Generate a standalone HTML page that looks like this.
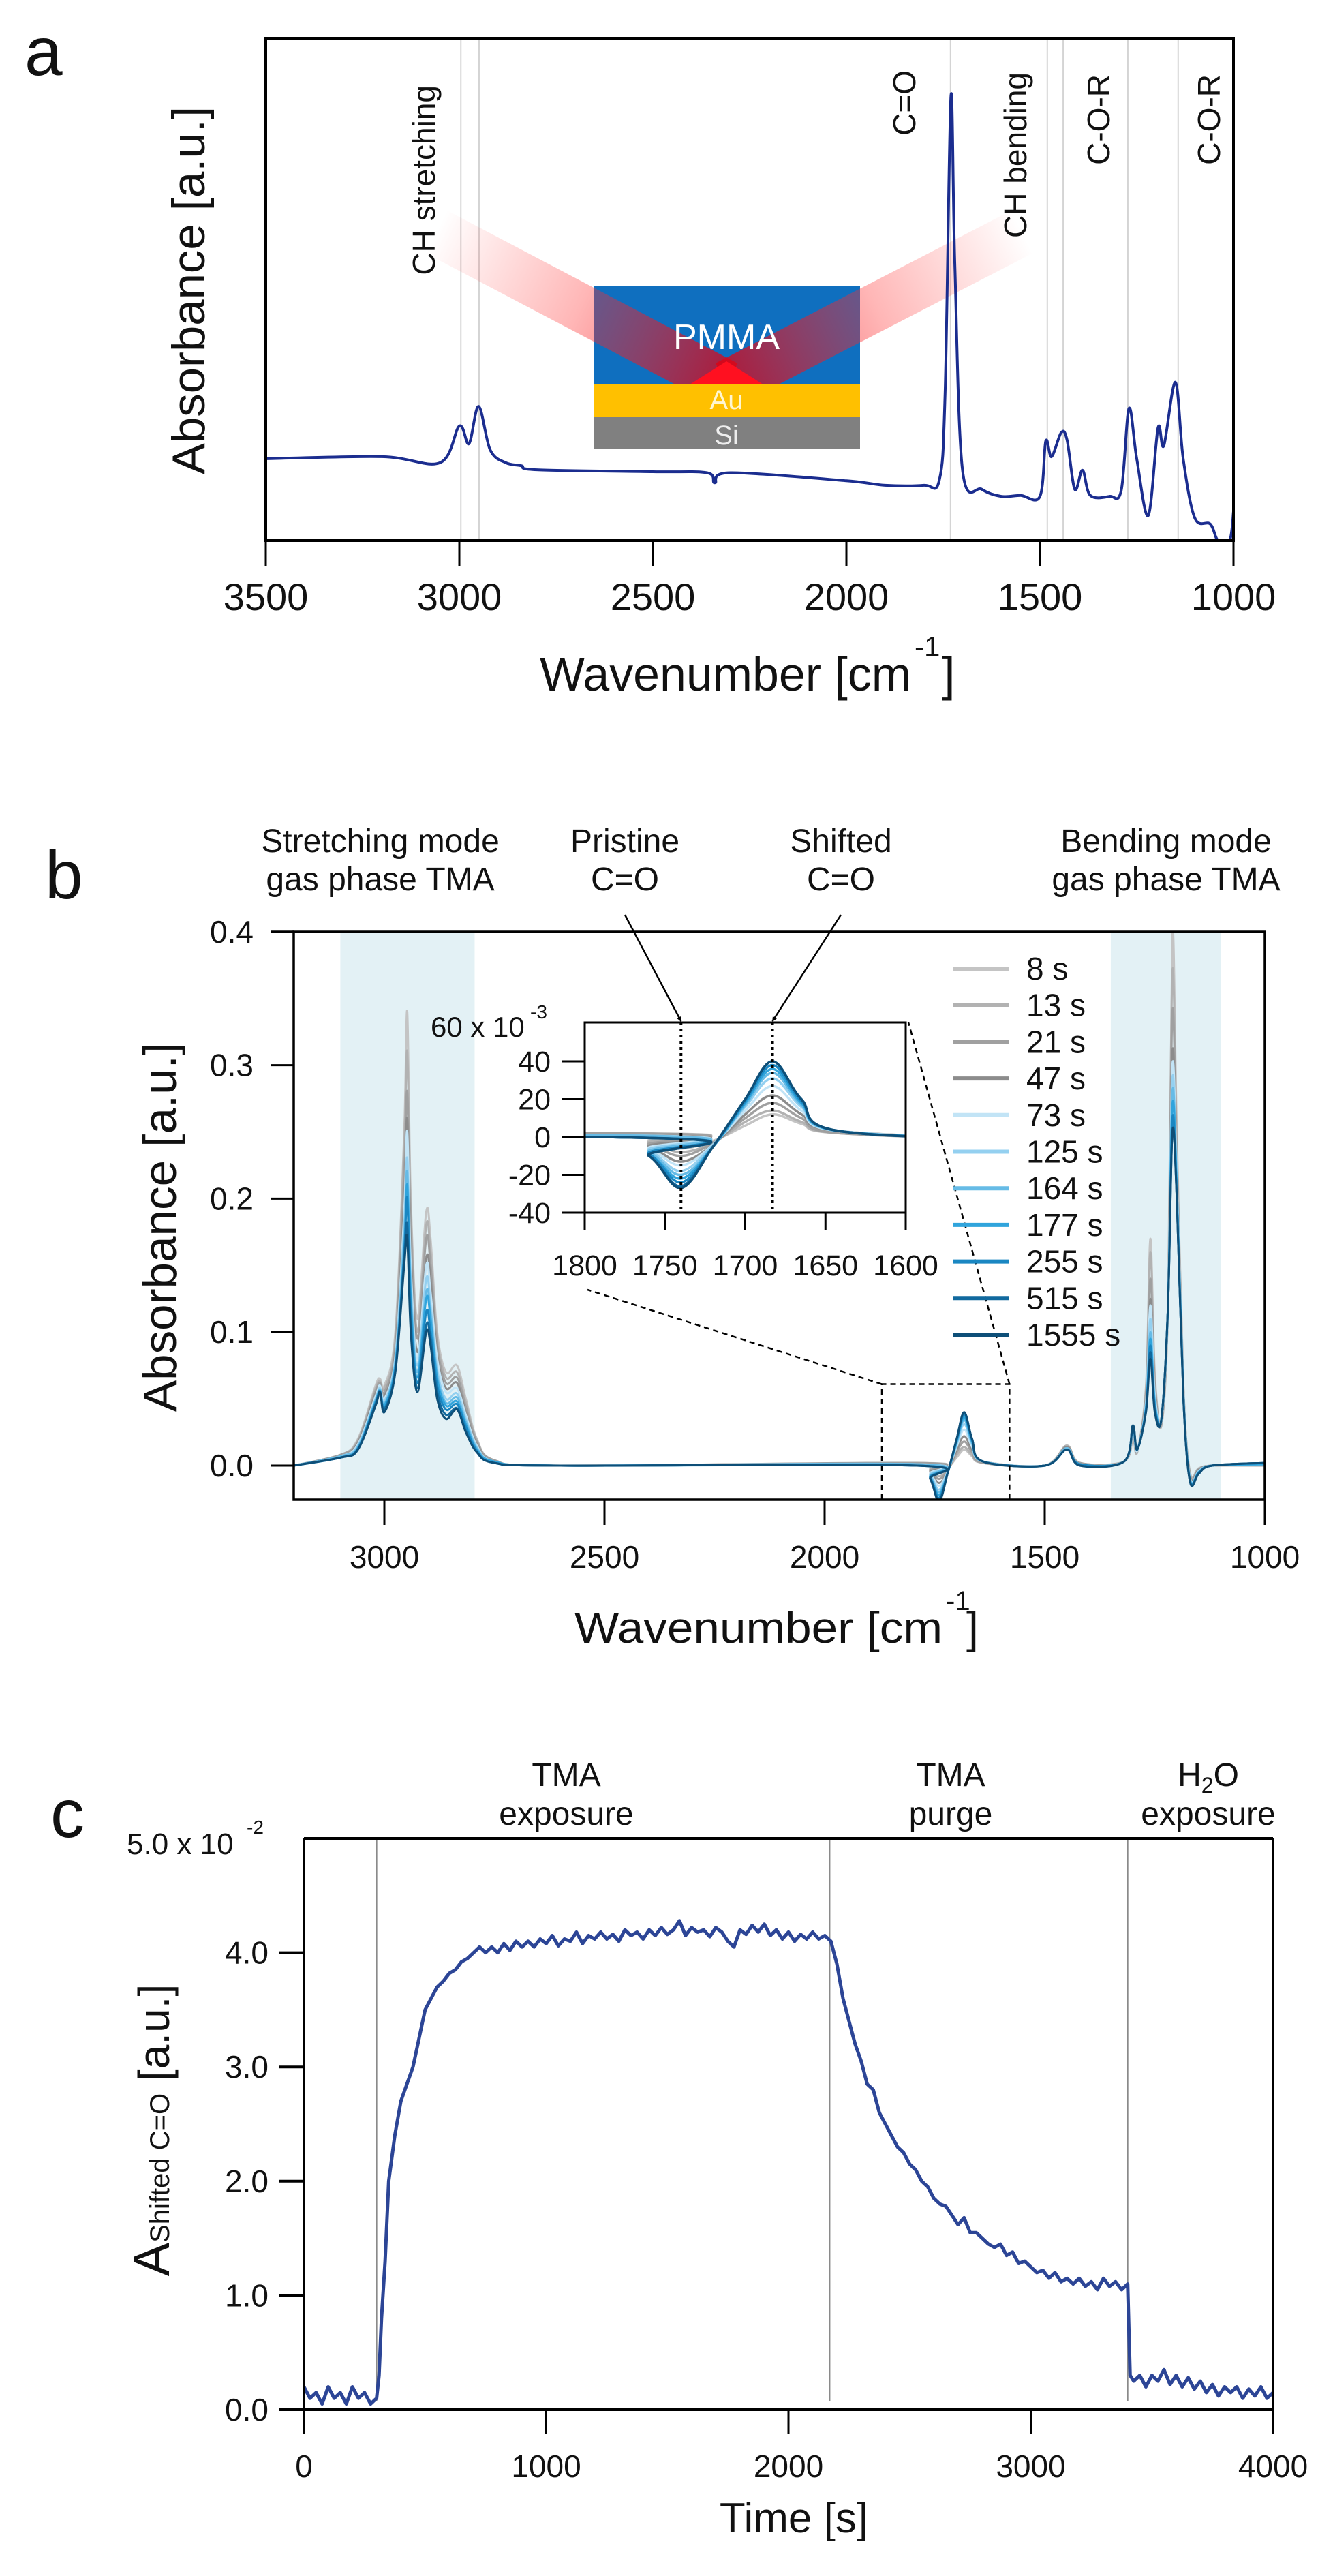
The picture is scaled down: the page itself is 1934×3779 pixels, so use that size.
<!DOCTYPE html>
<html><head><meta charset="utf-8"><title>FTIR figure</title>
<style>
html,body{margin:0;padding:0;background:#fff;}
svg{display:block;}
text{font-family:"Liberation Sans",Arial,sans-serif;fill:#111;}
</style></head>
<body>
<svg id="fig" xmlns="http://www.w3.org/2000/svg" width="1934" height="3779" viewBox="0 0 1934 3779">
<defs>
  <clipPath id="clipA"><rect x="390" y="56" width="1420" height="737"/></clipPath>
  <clipPath id="clipB"><rect x="431" y="1367" width="1425" height="833"/></clipPath>
  <clipPath id="clipI"><rect x="858" y="1500" width="471" height="279"/></clipPath>
  <clipPath id="clipC"><rect x="446" y="2697" width="1422" height="850"/></clipPath>
  <clipPath id="clipBeam"><rect x="600" y="300" width="950" height="264"/></clipPath>
  <linearGradient id="gL" gradientUnits="userSpaceOnUse" x1="640" y1="340" x2="1066" y2="550">
    <stop offset="0" stop-color="#ff3030" stop-opacity="0"/>
    <stop offset="0.5" stop-color="#ff3030" stop-opacity="0.35"/>
    <stop offset="1" stop-color="#e00010" stop-opacity="0.75"/>
  </linearGradient>
  <linearGradient id="gR" gradientUnits="userSpaceOnUse" x1="1500" y1="340" x2="1066" y2="550">
    <stop offset="0" stop-color="#ff3030" stop-opacity="0"/>
    <stop offset="0.5" stop-color="#ff3030" stop-opacity="0.35"/>
    <stop offset="1" stop-color="#e00010" stop-opacity="0.75"/>
  </linearGradient>
  <marker id="arrow" viewBox="0 0 10 10" refX="9" refY="5" markerWidth="7" markerHeight="7" orient="auto-start-reverse" markerUnits="userSpaceOnUse">
    <path d="M0,0 L10,5 L0,10 z" fill="#000"/>
  </marker>
</defs>

<g id="panelA">
  <text x="36" y="110" font-size="100">a</text>
  <g id="aGuides"></g>
  <g>
    <rect x="872" y="420" width="390" height="144" fill="#0f6fbf"/>
    <rect x="872" y="564" width="390" height="48" fill="#ffc000"/>
    <rect x="872" y="612" width="390" height="46" fill="#808080"/>
    <g clip-path="url(#clipBeam)">
      <line x1="640" y1="340" x2="1066" y2="564" stroke="url(#gL)" stroke-width="70"/>
      <line x1="1500" y1="340" x2="1066" y2="564" stroke="url(#gR)" stroke-width="70"/>
    </g>
    <polygon points="1012,564 1120,564 1066,530" fill="#ff1020"/>
    <text x="1066" y="512" font-size="52" text-anchor="middle" style="fill:#fff">PMMA</text>
    <text x="1066" y="600" font-size="40" text-anchor="middle" style="fill:#fff6d0">Au</text>
    <text x="1066" y="652" font-size="40" text-anchor="middle" style="fill:#eee">Si</text>
  </g>
  <g id="aSeries" clip-path="url(#clipA)"></g>
  <rect x="390" y="56" width="1420" height="737" fill="none" stroke="#000" stroke-width="4"/>
  <g id="aTicks"></g>
  <text transform="translate(300,426) rotate(-90)" font-size="68" text-anchor="middle" textLength="540" lengthAdjust="spacingAndGlyphs">Absorbance [a.u.]</text>
  <g>
    <text x="792" y="1013" font-size="70" textLength="545" lengthAdjust="spacingAndGlyphs">Wavenumber [cm</text>
    <text x="1342" y="963" font-size="42">-1</text>
    <text x="1382" y="1013" font-size="70">]</text>
  </g>
  <g font-size="46">
    <text transform="translate(638,125) rotate(-90)" text-anchor="end">CH stretching</text>
    <text transform="translate(1343,103) rotate(-90)" text-anchor="end">C=O</text>
    <text transform="translate(1506,106) rotate(-90)" text-anchor="end">CH bending</text>
    <text transform="translate(1628,109) rotate(-90)" text-anchor="end">C-O-R</text>
    <text transform="translate(1790,109) rotate(-90)" text-anchor="end">C-O-R</text>
  </g>
</g>

<g id="panelB">
  <text x="66" y="1318" font-size="100">b</text>
  <g font-size="48" text-anchor="middle">
    <text x="558" y="1250">Stretching mode</text>
    <text x="558" y="1306">gas phase TMA</text>
    <text x="917" y="1250">Pristine</text>
    <text x="917" y="1306">C=O</text>
    <text x="1234" y="1250">Shifted</text>
    <text x="1234" y="1306">C=O</text>
    <text x="1711" y="1250">Bending mode</text>
    <text x="1711" y="1306">gas phase TMA</text>
  </g>
  <g id="bBands"></g>
  <g id="bSeries" clip-path="url(#clipB)"></g>
  <rect x="431" y="1367" width="1425" height="833" fill="none" stroke="#000" stroke-width="3.5"/>
  <g id="bTicks"></g>
  <g id="bZoom"></g>
  <g id="inset">
    <rect x="858" y="1500" width="471" height="279" fill="#fff"/>
    <g id="iSeries" clip-path="url(#clipI)"></g>
    <rect x="858" y="1500" width="471" height="279" fill="none" stroke="#000" stroke-width="3"/>
    <g id="iTicks"></g>
    <text x="632" y="1521" font-size="42">60 x 10</text>
    <text x="778" y="1494" font-size="28">-3</text>
  </g>
  <g id="legend"></g>
  <text transform="translate(258,1800) rotate(-90)" font-size="68" text-anchor="middle" textLength="542" lengthAdjust="spacingAndGlyphs">Absorbance [a.u.]</text>
  <g>
    <text x="843" y="2410" font-size="64" textLength="540" lengthAdjust="spacingAndGlyphs">Wavenumber [cm</text>
    <text x="1388" y="2362" font-size="40">-1</text>
    <text x="1418" y="2410" font-size="64">]</text>
  </g>
</g>

<g id="panelC">
  <text x="74" y="2695" font-size="100">c</text>
  <g font-size="48" text-anchor="middle">
    <text x="831" y="2620">TMA</text>
    <text x="831" y="2677">exposure</text>
    <text x="1395" y="2620">TMA</text>
    <text x="1395" y="2677">purge</text>
    <text x="1773" y="2620">H<tspan font-size="32" dy="10">2</tspan><tspan dy="-10">O</tspan></text>
    <text x="1773" y="2677">exposure</text>
  </g>
  <g id="cGuides"></g>
  <g id="cSeries" clip-path="url(#clipC)"></g>
  <g stroke="#000" fill="none">
    <line x1="446" y1="2697" x2="1868" y2="2697" stroke-width="4"/>
    <line x1="446" y1="2697" x2="446" y2="3535" stroke-width="3"/>
    <line x1="1868" y1="2697" x2="1868" y2="3535" stroke-width="3"/>
    <line x1="446" y1="3535" x2="1868" y2="3535" stroke-width="4"/>
  </g>
  <g id="cTicks"></g>
  <text x="186" y="2720" font-size="44">5.0 x 10</text>
  <text x="362" y="2690" font-size="28">-2</text>
  <text transform="translate(248,3125) rotate(-90)" text-anchor="middle"><tspan font-size="74">A</tspan><tspan font-size="40">Shifted C=O</tspan><tspan font-size="64"> [a.u.]</tspan></text>
  <text x="1165" y="3715" font-size="62" text-anchor="middle">Time [s]</text>
</g>
</svg>

<script>
const wnA = [3500,3200,3050,3000,2975,2950,2920,2880,2840,2800,2500,2360,2340,2300,2000,1900,1800,1760,1745,1730,1720,1700,1650,1600,1550,1500,1485,1470,1445,1430,1410,1390,1370,1320,1290,1270,1250,1220,1195,1180,1150,1130,1100,1060,1040,1010,1000];
const absA = [0.163,0.167,0.155,0.228,0.193,0.267,0.18,0.155,0.149,0.141,0.137,0.135,0.115,0.135,0.119,0.11,0.11,0.12,0.293,0.885,0.554,0.14,0.102,0.088,0.09,0.088,0.198,0.167,0.215,0.2,0.102,0.14,0.09,0.088,0.1,0.263,0.163,0.05,0.224,0.189,0.315,0.163,0.045,0.033,0,0,0.058];
const ticksA = [3500,3000,2500,2000,1500,1000];
const guideWnA = [2996,2949,1731,1481,1440,1273,1143];

const wnB = [3206,3100,3060,3020,3010,3000,2975,2955,2948,2940,2925,2905,2895,2880,2860,2835,2815,2790,2750,2600,1790,1760,1740,1720,1700,1683,1665,1640,1500,1450,1420,1320,1300,1290,1270,1260,1250,1235,1220,1210,1200,1185,1170,1150,1120,1000];
const labelsB = ["8 s","13 s","21 s","47 s","73 s","125 s","164 s","177 s","255 s","515 s","1555 s"];
const colorsB = ["#c4c4c4","#b2b2b2","#a0a0a0","#8c8c8c","#c2e4f6","#94d0f0","#66bbe6","#30a4dc","#1a87c2","#11699e","#0e4f78"];
const s8    = [0,.008,.02,.06,.065,.06,.10,.25,.34,.20,.11,.19,.17,.10,.07,.075,.05,.02,.004,0,.002,-.002,-.006,-.002,.006,.012,.007,.002,0,.015,.002,.003,.02,.01,.06,.17,.07,.03,.12,.40,.25,.06,-.005,-.002,0,0];
const s13   = [0,.008,.019,.058,.063,.058,.095,.24,.31,.19,.10,.18,.16,.095,.066,.07,.047,.019,.004,0,.002,-.003,-.008,-.003,.008,.014,.008,.002,0,.015,.002,.003,.022,.01,.057,.16,.066,.03,.12,.37,.24,.06,-.006,-.002,0,0];
const s21   = [0,.008,.018,.056,.062,.055,.09,.22,.28,.18,.095,.17,.15,.09,.062,.066,.044,.018,.004,0,.002,-.004,-.01,-.003,.01,.018,.01,.002,0,.014,.002,.003,.023,.011,.054,.14,.062,.032,.12,.34,.23,.058,-.007,-.003,0,0];
const s47   = [0,.007,.017,.054,.06,.052,.085,.2,.26,.16,.085,.155,.14,.083,.058,.062,.04,.016,.003,0,.001,-.005,-.013,-.004,.012,.022,.012,.003,0,.014,.001,.003,.025,.011,.05,.125,.056,.033,.12,.31,.22,.056,-.008,-.003,0,.001];
const s73   = [0,.007,.016,.052,.06,.05,.082,.19,.25,.15,.08,.15,.13,.08,.055,.058,.038,.015,.003,0,.001,-.006,-.015,-.004,.014,.027,.014,.003,0,.013,.001,.003,.026,.011,.048,.12,.054,.034,.12,.30,.22,.055,-.009,-.004,0,.001];
const s125  = [0,.007,.015,.05,.058,.048,.08,.18,.23,.14,.075,.14,.12,.072,.05,.054,.035,.014,.003,0,.001,-.007,-.018,-.004,.016,.031,.016,.003,0,.013,.001,.003,.027,.012,.046,.11,.05,.034,.12,.29,.21,.054,-.01,-.004,0,.001];
const s164  = [0,.007,.014,.049,.057,.046,.077,.17,.22,.13,.07,.13,.115,.068,.047,.051,.033,.013,.003,0,.001,-.008,-.02,-.005,.017,.034,.017,.003,0,.013,.001,.003,.028,.012,.044,.1,.048,.035,.12,.28,.21,.053,-.01,-.005,0,.001];
const s177  = [0,.006,.013,.048,.056,.045,.075,.16,.21,.125,.066,.125,.11,.065,.045,.048,.031,.012,.003,0,0,-.009,-.022,-.005,.018,.036,.018,.003,0,.012,.001,.003,.029,.012,.043,.095,.046,.035,.12,.27,.21,.052,-.011,-.005,0,.001];
const s255  = [0,.006,.013,.047,.056,.043,.073,.16,.20,.115,.062,.115,.1,.06,.042,.046,.029,.011,.002,0,0,-.009,-.024,-.005,.019,.038,.019,.003,0,.012,.001,.003,.03,.012,.042,.09,.044,.035,.12,.26,.2,.051,-.011,-.005,0,.002];
const s515  = [0,.006,.012,.046,.055,.042,.071,.155,.18,.105,.058,.105,.095,.055,.038,.043,.026,.01,.002,0,0,-.01,-.026,-.005,.02,.04,.02,.003,0,.012,0,.003,.03,.012,.041,.085,.042,.035,.12,.25,.2,.05,-.012,-.006,0,.002];
const s1555 = [0,.006,.012,.045,.055,.04,.07,.15,.17,.10,.055,.10,.09,.05,.035,.042,.025,.01,.002,0,0,-.01,-.027,-.005,.02,.04,.02,.003,0,.012,0,.003,.03,.012,.04,.08,.04,.035,.12,.25,.2,.05,-.012,-.006,0,.002];
const seriesB = [s8,s13,s21,s47,s73,s125,s164,s177,s255,s515,s1555];
const xTicksB = [3000,2500,2000,1500,1000];
const yTicksB = [0,0.1,0.2,0.3,0.4];
const yTickLabelsB = ["0.0","0.1","0.2","0.3","0.4"];
const bandsB = [[3100,2795],[1350,1100]];
const zoomWnB = [1870,1580];
const zoomTopB = 0.061;
const xTicksI = [1800,1750,1700,1650,1600];
const yTicksI = [-40,-20,0,20,40];
const markWnI = [1740,1683];

const tC = [0,25,50,75,100,125,150,175,200,225,250,275,300,310,320,335,350,375,400,425,450,475,500,525,550,575,600,625,650,675,700,
 725,750,775,800,825,850,875,900,925,950,975,1000,1025,1050,1075,1100,1125,1150,1175,1200,1225,1250,1275,1300,1325,1350,1375,1400,1425,1450,1475,1500,1525,1550,1575,1600,1625,1650,1675,1700,1725,1750,1775,1800,1825,1850,1875,1900,1925,1950,1975,2000,2025,2050,2075,2100,2125,2150,2175,
 2200,2225,2250,2275,2300,2325,2350,2375,2400,2425,2450,2475,2500,2525,2550,2575,2600,2625,2650,2675,2700,2725,2750,2775,2800,2825,2850,2875,2900,2925,2950,2975,3000,3025,3050,3075,3100,3125,3150,3175,3200,3225,3250,3275,3300,3325,3350,3375,3400,
 3410,3425,3450,3475,3500,3525,3550,3575,3600,3625,3650,3675,3700,3725,3750,3775,3800,3825,3850,3875,3900,3925,3950,3975,4000];
const aC = [0.2,0.1,0.15,0.05,0.2,0.1,0.15,0.05,0.2,0.1,0.15,0.05,0.1,0.3,0.8,1.3,2.0,2.4,2.7,2.85,3.0,3.25,3.5,3.6,3.7,3.75,3.82,3.85,3.92,3.95,4.0,
 4.05,4.0,4.05,4.0,4.08,4.02,4.1,4.05,4.1,4.05,4.12,4.08,4.15,4.06,4.12,4.1,4.18,4.08,4.15,4.12,4.18,4.12,4.16,4.1,4.2,4.15,4.18,4.12,4.2,4.15,4.22,4.16,4.2,4.28,4.15,4.22,4.18,4.2,4.14,4.22,4.18,4.1,4.05,4.2,4.16,4.24,4.18,4.25,4.15,4.2,4.12,4.18,4.1,4.16,4.12,4.18,4.12,4.15,4.1,
 3.9,3.6,3.4,3.2,3.05,2.85,2.8,2.6,2.5,2.4,2.3,2.25,2.15,2.1,2.0,1.95,1.85,1.8,1.78,1.7,1.62,1.68,1.55,1.55,1.5,1.45,1.42,1.45,1.35,1.38,1.28,1.3,1.25,1.2,1.22,1.15,1.2,1.12,1.15,1.1,1.15,1.08,1.12,1.05,1.15,1.08,1.12,1.05,1.1,
 0.3,0.25,0.3,0.2,0.3,0.25,0.35,0.22,0.3,0.2,0.28,0.18,0.25,0.15,0.22,0.12,0.2,0.15,0.2,0.1,0.18,0.12,0.2,0.1,0.15];
const xTicksC = [0,1000,2000,3000,4000];
const yTicksC = [0,1,2,3,4];
const yTickLabelsC = ["0.0","1.0","2.0","3.0","4.0"];
const phaseT = [300,2170,3400];

const xA = w => 390 + (3500 - w) * 1420 / 2500;
const yA = v => 793 - v * 737;
const xB = w => 564 + (3000 - w) * 0.646;
const yB = v => 2150 - v * 1958;
const xI = w => 858 + (1800 - w) * 471 / 200;
const yI = v => 1668 - v * 1000 * 55.5 / 20;
const yIm = m => 1668 - m * 55.5 / 20;
const xC = t => 446 + t * 1422 / 4000;
const yC = v => 3535 - v * 167.6;

const NS = "http://www.w3.org/2000/svg";
function mk(tag, parent, attrs) {
  const e = document.createElementNS(NS, tag);
  for (const k in attrs) e.setAttribute(k, attrs[k]);
  parent.appendChild(e);
  return e;
}
function spline(pts) {
  let d = "M" + pts[0][0].toFixed(1) + "," + pts[0][1].toFixed(1);
  for (let i = 0; i < pts.length - 1; i++) {
    const p0 = pts[Math.max(i - 1, 0)], p1 = pts[i], p2 = pts[i + 1], p3 = pts[Math.min(i + 2, pts.length - 1)];
    const c1x = p1[0] + (p2[0] - p0[0]) / 6, c1y = p1[1] + (p2[1] - p0[1]) / 6;
    const c2x = p2[0] - (p3[0] - p1[0]) / 6, c2y = p2[1] - (p3[1] - p1[1]) / 6;
    d += " C" + c1x.toFixed(1) + "," + c1y.toFixed(1) + " " + c2x.toFixed(1) + "," + c2y.toFixed(1) + " " + p2[0].toFixed(1) + "," + p2[1].toFixed(1);
  }
  return d;
}
function poly(pts) {
  return "M" + pts.map(p => p[0].toFixed(1) + "," + p[1].toFixed(1)).join(" L");
}

const aGuides = document.getElementById("aGuides");
guideWnA.forEach(w => {
  const l = mk("line", aGuides, {x1: xA(w), x2: xA(w), y1: 56, y2: 793, stroke: "#d4d4d4", "stroke-width": 2});
  
  
});
const aSeries = document.getElementById("aSeries");
const pa = mk("path", aSeries, {d: spline(wnA.map((w, i) => [xA(w), yA(absA[i])])), fill: "none", stroke: "#1b2d8f", "stroke-width": 4, "stroke-linejoin": "round"});


const aTicks = document.getElementById("aTicks");
ticksA.forEach(w => {
  const l = mk("line", aTicks, {x1: xA(w), x2: xA(w), y1: 793, y2: 830, stroke: "#000", "stroke-width": 3});
  
  
  const t = mk("text", aTicks, {x: xA(w), y: 895, "font-size": 56, "text-anchor": "middle"});
  t.textContent = String(w);
  
  
});

const bBands = document.getElementById("bBands");
bandsB.forEach(b => {
  const r = mk("rect", bBands, {x: xB(b[0]), y: 1367, width: xB(b[1]) - xB(b[0]), height: 833, fill: "#e3f1f5"});
  
  
});
const bSeries = document.getElementById("bSeries");
seriesB.forEach((s, k) => {
  const p = mk("path", bSeries, {d: spline(wnB.map((w, i) => [xB(w), yB(s[i])])), fill: "none", stroke: colorsB[k], "stroke-width": 3, "stroke-linejoin": "round"});
  
  
});
const bTicks = document.getElementById("bTicks");
xTicksB.forEach(w => {
  const l = mk("line", bTicks, {x1: xB(w), x2: xB(w), y1: 2200, y2: 2237, stroke: "#000", "stroke-width": 3});
  
  
  const t = mk("text", bTicks, {x: xB(w), y: 2300, "font-size": 46, "text-anchor": "middle"});
  t.textContent = String(w);
  
  
});
yTicksB.forEach((v, i) => {
  const l = mk("line", bTicks, {x1: 397, x2: 431, y1: yB(v), y2: yB(v), stroke: "#000", "stroke-width": 3});
  
  
  const t = mk("text", bTicks, {x: 372, y: yB(v) + 16, "font-size": 46, "text-anchor": "end"});
  t.textContent = yTickLabelsB[i];
  
  
});
const bZoom = document.getElementById("bZoom");
const zx1 = xB(zoomWnB[0]), zx2 = xB(zoomWnB[1]), zy = yB(zoomTopB);
const zb = mk("path", bZoom, {d: `M${zx1},2200 L${zx1},${zy} L${zx2},${zy} L${zx2},2200`, fill: "none", stroke: "#000", "stroke-width": 2.5, "stroke-dasharray": "8,6"});


const zc1 = mk("line", bZoom, {x1: zx1, y1: zy, x2: 862, y2: 1892, stroke: "#000", "stroke-width": 2.5, "stroke-dasharray": "8,6"});


const zc2 = mk("line", bZoom, {x1: zx2, y1: zy, x2: 1333, y2: 1500, stroke: "#000", "stroke-width": 2.5, "stroke-dasharray": "8,6"});


const iSeries = document.getElementById("iSeries");
seriesB.forEach((s, k) => {
  const p = mk("path", iSeries, {d: spline(wnB.map((w, i) => [xI(w), yI(s[i])])), fill: "none", stroke: colorsB[k], "stroke-width": 3.5, "stroke-linejoin": "round"});
  
  
});
const iTicks = document.getElementById("iTicks");
markWnI.forEach(w => {
  const l = mk("line", iTicks, {x1: xI(w), x2: xI(w), y1: 1500, y2: 1779, stroke: "#000", "stroke-width": 4, "stroke-dasharray": "4,5"});
  
  
});
xTicksI.forEach(w => {
  const l = mk("line", iTicks, {x1: xI(w), x2: xI(w), y1: 1779, y2: 1804, stroke: "#000", "stroke-width": 3});
  
  
  const t = mk("text", iTicks, {x: xI(w), y: 1871, "font-size": 43, "text-anchor": "middle"});
  t.textContent = String(w);
  
  
});
yTicksI.forEach(m => {
  const l = mk("line", iTicks, {x1: 824, x2: 858, y1: yIm(m), y2: yIm(m), stroke: "#000", "stroke-width": 3});
  
  
  const t = mk("text", iTicks, {x: 808, y: yIm(m) + 15, "font-size": 43, "text-anchor": "end"});
  t.textContent = String(m);
  
  
});
const ar1 = mk("line", iTicks, {x1: 917, y1: 1342, x2: xI(markWnI[0]), y2: 1498, stroke: "#000", "stroke-width": 2.5, "marker-end": "url(#arrow)"});


const ar2 = mk("line", iTicks, {x1: 1234, y1: 1342, x2: xI(markWnI[1]), y2: 1498, stroke: "#000", "stroke-width": 2.5, "marker-end": "url(#arrow)"});


const legend = document.getElementById("legend");
labelsB.forEach((lab, k) => {
  const y = 1421 + k * 53.7;
  const l = mk("line", legend, {x1: 1398, x2: 1481, y1: y, y2: y, stroke: colorsB[k], "stroke-width": 6});
  
  
  const t = mk("text", legend, {x: 1506, y: y + 16, "font-size": 46});
  t.textContent = lab;
  
  
});

const cGuides = document.getElementById("cGuides");
phaseT.forEach(t => {
  const l = mk("line", cGuides, {x1: xC(t), x2: xC(t), y1: 2697, y2: 3523, stroke: "#8a8a8a", "stroke-width": 2});
  
  
});
const cSeries = document.getElementById("cSeries");
const pc = mk("path", cSeries, {d: poly(tC.map((t, i) => [xC(t), yC(aC[i])])), fill: "none", stroke: "#2c4596", "stroke-width": 5, "stroke-linejoin": "round"});


const cTicks = document.getElementById("cTicks");
xTicksC.forEach(t => {
  const l = mk("line", cTicks, {x1: xC(t), x2: xC(t), y1: 3535, y2: 3571, stroke: "#000", "stroke-width": 3});
  
  
  const tx = mk("text", cTicks, {x: xC(t), y: 3634, "font-size": 46, "text-anchor": "middle"});
  tx.textContent = String(t);
  
  
});
yTicksC.forEach((v, i) => {
  const l = mk("line", cTicks, {x1: 409, x2: 446, y1: yC(v), y2: yC(v), stroke: "#000", "stroke-width": 4});
  
  
  const tx = mk("text", cTicks, {x: 394, y: yC(v) + 16, "font-size": 46, "text-anchor": "end"});
  tx.textContent = yTickLabelsC[i];
  
  
});
</script>
</body></html>
